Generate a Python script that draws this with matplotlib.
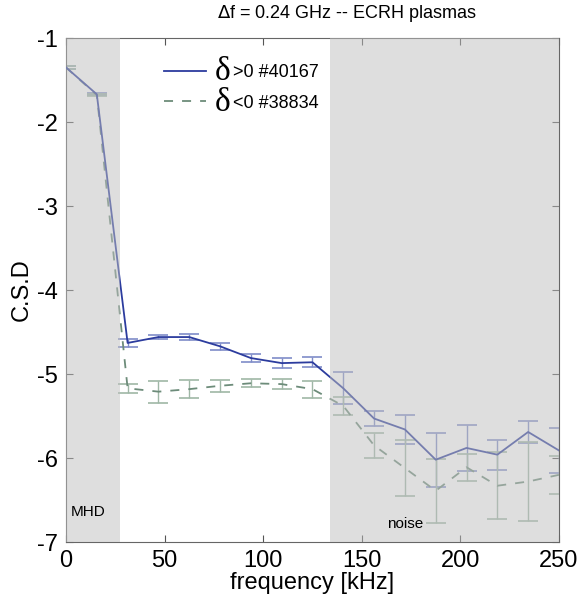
import matplotlib
matplotlib.use('Agg')
import matplotlib.pyplot as plt
from matplotlib.lines import Line2D
import numpy as np

plt.rcParams['font.family'] = ['Liberation Sans', 'DejaVu Sans']
plt.rcParams['axes.unicode_minus'] = False

freq = [0, 15.625, 31.25, 46.875, 62.5, 78.125, 93.75, 109.375, 125,
        140.625, 156.25, 171.875, 187.5, 203.125, 218.75, 234.375, 250]

csd_pos = [-1.35, -1.67, -4.63, -4.56, -4.56, -4.67, -4.81, -4.87, -4.86,
           -5.17, -5.53, -5.66, -6.02, -5.88, -5.96, -5.69, -5.91]
err_pos = [0.015, 0.01, 0.045, 0.025, 0.04, 0.04, 0.05, 0.06, 0.06,
           0.19, 0.085, 0.17, 0.32, 0.27, 0.18, 0.13, 0.27]

csd_neg = [-1.35, -1.68, -5.17, -5.21, -5.18, -5.14, -5.11, -5.12, -5.18,
           -5.38, -5.85, -6.12, -6.39, -6.11, -6.33, -6.28, -6.20]
err_neg = [0.015, 0.01, 0.055, 0.13, 0.11, 0.07, 0.05, 0.06, 0.10,
           0.11, 0.15, 0.33, 0.38, 0.16, 0.40, 0.47, 0.23]

labels = ['>0 #40167', '<0 #38834']
mhd_band = (0, 27.3)
noise_band = (133.7, 250)

fig = plt.figure(figsize=(5.82, 5.94), dpi=100)
ax = fig.add_axes([0.1134, 0.0875, 0.847, 0.8485])

blue = '#2c3c9e'
green = '#6d8c7a'

ax.errorbar(freq, csd_pos, yerr=err_pos, fmt='none', ecolor='#7f8cc8',
            elinewidth=1, capsize=7, capthick=1.2, zorder=2)
ax.errorbar(freq, csd_neg, yerr=err_neg, fmt='none', ecolor='#9fb7a6',
            elinewidth=1, capsize=7, capthick=1.2, zorder=2)
ax.plot(freq, csd_neg, color=green, lw=1.3, ls=(0, (5, 5)), zorder=3)
ax.plot(freq, csd_pos, color=blue, lw=1.3, zorder=4)

# grey bands are drawn over the curves, like the original
for lo, hi in (mhd_band, noise_band):
    ax.axvspan(lo, hi, color='#bebebe', alpha=0.5, lw=0, zorder=5)

ax.text(2.5, -6.64, 'MHD', fontsize=11, va='center', ha='left', zorder=6)
ax.text(172, -6.79, 'noise', fontsize=11, va='center', ha='center', zorder=6)

ax.set_xlim(0, 250)
ax.set_ylim(-7, -1)
ax.set_xticks([0, 50, 100, 150, 200, 250])
ax.set_yticks([-7, -6, -5, -4, -3, -2, -1])
ax.tick_params(direction='in', top=True, right=True, length=5,
               labelsize=17, color='#555555', pad=6)
for s in ax.spines.values():
    s.set_color('#666666')
ax.set_xlabel('frequency [kHz]', fontsize=17, labelpad=0)
ax.set_ylabel('C.S.D', fontsize=17, labelpad=3)

fig.text(347 / 582, 1 - 14 / 594, r'$\Delta$f = 0.24 GHz -- ECRH plasmas',
         fontsize=13, ha='center', va='center')

handles = [Line2D([], [], color=blue, lw=1.3),
           Line2D([], [], color=green, lw=1.3, ls=(0, (5, 5)))]
leg = ax.legend(handles, labels, loc='upper left', bbox_to_anchor=(0.199, 0.948),
                frameon=False, fontsize=13, handlelength=2.3,
                handletextpad=1.5, labelspacing=0.75, borderpad=0,
                borderaxespad=0)
leg.set_zorder(7)

fig.canvas.draw()
inv = fig.transFigure.inverted()
for t in leg.get_texts():
    bb = t.get_window_extent()
    x, y = inv.transform((bb.x0 - 10, (bb.y0 + bb.y1) / 2 + 1))
    fig.text(x, y, '\u03b4', fontsize=24, ha='center', va='center',
             family='Liberation Serif')

fig.savefig('out.png', dpi=100)
